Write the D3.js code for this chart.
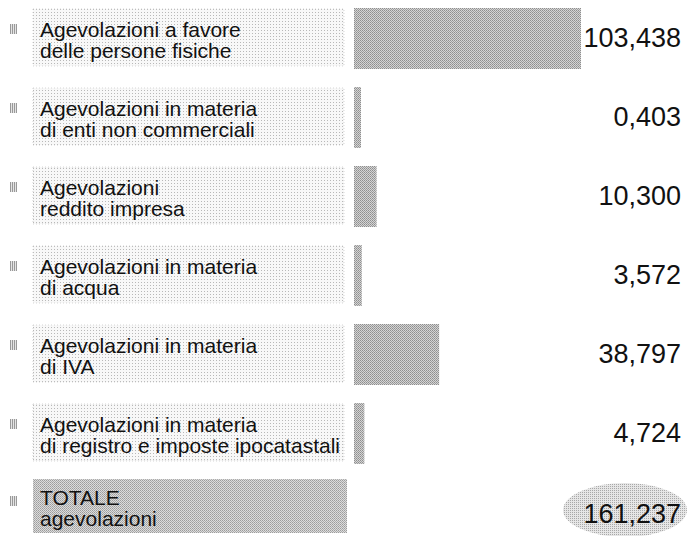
<!DOCTYPE html>
<html><head><meta charset="utf-8">
<script src="https://cdn.jsdelivr.net/npm/d3@7/dist/d3.min.js"></script>
<style>
html,body{margin:0;padding:0;background:#fff;}
svg{display:block;font-family:"Liberation Sans",Arial,Helvetica,sans-serif;}
</style></head>
<body><svg id="c" width="687" height="536"></svg>
<script>
// ---- data ----
const categories = [
  ["Agevolazioni a favore", "delle persone fisiche"],
  ["Agevolazioni in materia", "di enti non commerciali"],
  ["Agevolazioni", "reddito impresa"],
  ["Agevolazioni in materia", "di acqua"],
  ["Agevolazioni in materia", "di IVA"],
  ["Agevolazioni in materia", "di registro e imposte ipocatastali"]
];
const values = [103.438, 0.403, 10.300, 3.572, 38.797, 4.724];
const totalLabel = ["TOTALE", "agevolazioni"];
const totalValue = 161.237;

// ---- rendering ----
const svg = d3.select("#c");
const it = d3.formatLocale({decimal: ",", thousands: ".", grouping: [3], currency: ["€", ""]});
const fmt = it.format(".3f");

const x = d3.scaleLinear().domain([0, 103.438]).range([354, 581]);
const y = d3.scaleLinear().domain([0, 6]).range([9, 483]);

const defs = svg.append("defs");
const dots = defs.append("pattern").attr("id","dots").attr("width",3).attr("height",3).attr("patternUnits","userSpaceOnUse");
dots.append("rect").attr("width",3).attr("height",3).attr("fill","#f8f8f8");
dots.append("rect").attr("width",1).attr("height",1).attr("fill","#b8b8b8");
const grey = defs.append("pattern").attr("id","grey").attr("width",2).attr("height",2).attr("patternUnits","userSpaceOnUse");
grey.append("rect").attr("width",2).attr("height",2).attr("fill","#d4d4d4");
grey.append("rect").attr("width",1).attr("height",1).attr("fill","#8e8e8e");
grey.append("rect").attr("x",1).attr("y",1).attr("width",1).attr("height",1).attr("fill","#9e9e9e");
const tot = defs.append("pattern").attr("id","tot").attr("width",2).attr("height",2).attr("patternUnits","userSpaceOnUse");
tot.append("rect").attr("width",2).attr("height",2).attr("fill","#dcdcdc");
tot.append("rect").attr("width",1).attr("height",1).attr("fill","#9c9c9c");
tot.append("rect").attr("x",1).attr("y",1).attr("width",1).attr("height",1).attr("fill","#acacac");
const ell = defs.append("pattern").attr("id","ell").attr("width",2).attr("height",2).attr("patternUnits","userSpaceOnUse");
ell.append("rect").attr("width",2).attr("height",2).attr("fill","#e6e6e6");
ell.append("rect").attr("width",1).attr("height",1).attr("fill","#a8a8a8");
const icon = defs.append("pattern").attr("id","icon").attr("width",2).attr("height",2).attr("patternUnits","userSpaceOnUse");
icon.append("rect").attr("width",2).attr("height",2).attr("fill","#e4e4e4");
icon.append("rect").attr("width",1).attr("height",2).attr("fill","#999999");

function drawIcon(g, top){
  g.append("rect").attr("x",10).attr("y",top+15).attr("width",7).attr("height",10).attr("fill","url(#icon)");
}
function drawLabel(g, top, lines, fill){
  g.append("rect").attr("x",33).attr("y",top).attr("width",311).attr("height",57)
    .attr("fill",fill).attr("stroke","#c4c4c4").attr("stroke-width",0.7).attr("stroke-dasharray","1,2");
  const t = g.append("text").attr("x",40).attr("y",top+28).attr("font-size",21).attr("fill","#111");
  lines.forEach((l,i)=>t.append("tspan").attr("x",40).attr("dy", i===0?0:21).text(l));
}

const rows = svg.selectAll("g.row").data(values).join("g").attr("class","row");
rows.each(function(v,i){
  const g = d3.select(this);
  const top = y(i);
  drawIcon(g, top);
  drawLabel(g, top, categories[i], "url(#dots)");
  g.append("rect").attr("x",x(0)).attr("y",top-1)
    .attr("width",Math.max(7, x(v)-x(0))).attr("height",61).attr("fill","url(#grey)");
  g.append("text").attr("x",681).attr("y",top+38).attr("text-anchor","end")
    .attr("font-size",27).attr("fill","#111").text(fmt(v));
});

// total row
const gt = svg.append("g");
const ttop = y(6) - 4;
drawIcon(gt, ttop + 2);
gt.append("rect").attr("x",33).attr("y",ttop).attr("width",314).attr("height",54).attr("fill","url(#tot)");
const tt = gt.append("text").attr("x",40).attr("y",ttop+26).attr("font-size",21).attr("fill","#111");
totalLabel.forEach((l,i)=>tt.append("tspan").attr("x",40).attr("dy", i===0?0:21).text(l));
gt.append("ellipse").attr("cx",625).attr("cy",510).attr("rx",62).attr("ry",27).attr("fill","url(#ell)");
gt.append("text").attr("x",681).attr("y",ttop+44).attr("text-anchor","end")
  .attr("font-size",27).attr("fill","#111").text(fmt(totalValue));
</script>
</body></html>
